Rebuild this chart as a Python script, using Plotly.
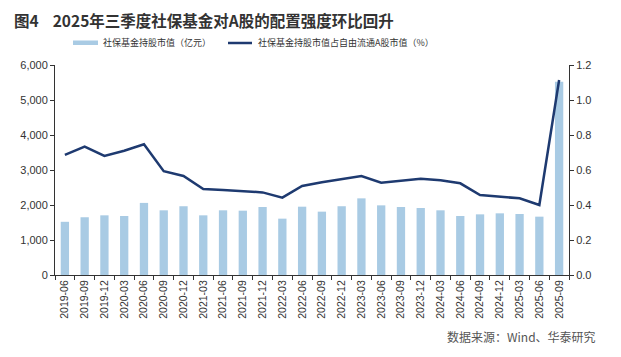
import plotly.graph_objects as go

categories = ["2019-06","2019-09","2019-12","2020-03","2020-06","2020-09","2020-12",
              "2021-03","2021-06","2021-09","2021-12","2022-03","2022-06","2022-09",
              "2022-12","2023-03","2023-06","2023-09","2023-12","2024-03","2024-06",
              "2024-09","2024-12","2025-03","2025-06","2025-09"]
holding_value = [1520, 1650, 1705, 1686, 2060, 1848, 1965, 1705, 1848, 1838, 1943, 1610,
                 1952, 1810, 1965, 2190, 1990, 1943, 1914, 1848, 1686, 1733, 1762, 1743,
                 1667, 5520]
holding_ratio = [0.686, 0.733, 0.680, 0.710, 0.747, 0.593, 0.566, 0.491, 0.486, 0.480,
                 0.472, 0.442, 0.509, 0.530, 0.548, 0.566, 0.527, 0.537, 0.550, 0.541,
                 0.524, 0.457, 0.447, 0.438, 0.400, 1.114]
left_ticks = [0, 1000, 2000, 3000, 4000, 5000, 6000]
right_ticks = [0.0, 0.2, 0.4, 0.6, 0.8, 1.0, 1.2]

BAR_COLOR = "#A9CBE4"
LINE_COLOR = "#1E3A70"
TXT = "#333333"

OFF = 8  # default page body margin
W, H = 621 - OFF, 357 - OFF
# page-pixel plot area: x 55..569, y 65..275
L = 55 - OFF
T = 65 - OFF
R = W - (569 - OFF)
B = H - (275 - OFF)
PW, PH = W - L - R, H - T - B

def px(x):
    return (x - OFF - L) / PW

def py(y):
    return (H - B - (y - OFF)) / PH

fig = go.Figure()
fig.add_trace(go.Bar(x=categories, y=holding_value, marker_color=BAR_COLOR,
                     marker_line_width=0, name="社保基金持股市值（亿元）", yaxis="y"))
fig.add_trace(go.Scatter(x=categories, y=holding_ratio, mode="lines",
                         line=dict(color=LINE_COLOR, width=2.5),
                         name="社保基金持股市值占自由流通A股市值（%）", yaxis="y2"))

axis_common = dict(showgrid=False, zeroline=False, showline=True, linecolor=TXT,
                   linewidth=1, ticks="outside", ticklen=4, tickcolor=TXT,
                   tickfont=dict(family="Liberation Sans, Arial", size=11, color=TXT))

fig.update_layout(
    width=W, height=H,
    margin=dict(l=L, r=R, t=T, b=B, autoexpand=False),
    paper_bgcolor="white", plot_bgcolor="white",
    showlegend=False,
    bargap=0.58,
    xaxis=dict(type="category", tickangle=-90, tickson="boundaries",
               showgrid=False, showline=True, linecolor=TXT, linewidth=1,
               ticks="outside", ticklen=4, tickcolor=TXT,
               tickfont=dict(family="Liberation Sans, Arial", size=10.5, color=TXT)),
    yaxis=dict(range=[0, 6000], tickvals=left_ticks, tickformat=",d", **axis_common),
    yaxis2=dict(range=[0, 1.2], tickvals=right_ticks, tickformat=".1f",
                overlaying="y", side="right", **axis_common),
)

# title
fig.add_annotation(text="<b>图4    2025年三季度社保基金对A股的配置强度环比回升</b>",
                   xref="paper", yref="paper", x=px(12), y=py(20),
                   xanchor="left", yanchor="middle", showarrow=False,
                   font=dict(family="Noto Sans CJK SC", size=15.5, color=TXT))

# legend (manual)
fig.add_shape(type="rect", xref="paper", yref="paper",
              x0=px(73), x1=px(98), y0=py(45), y1=py(40.5),
              fillcolor=BAR_COLOR, line_width=0)
fig.add_shape(type="line", xref="paper", yref="paper",
              x0=px(228), x1=px(252), y0=py(43), y1=py(43),
              line=dict(color=LINE_COLOR, width=2.5))
fig.add_annotation(text="社保基金持股市值（亿元）", xref="paper", yref="paper",
                   x=px(101), y=py(43), xanchor="left", yanchor="middle",
                   showarrow=False, font=dict(family="Noto Sans CJK SC", size=9, color=TXT))
fig.add_annotation(text="社保基金持股市值占自由流通A股市值（%）", xref="paper", yref="paper",
                   x=px(256), y=py(43), xanchor="left", yanchor="middle",
                   showarrow=False, font=dict(family="Noto Sans CJK SC", size=9, color=TXT))

# source
fig.add_annotation(text="数据来源：Wind、华泰研究", xref="paper", yref="paper",
                   x=px(598), y=py(336), xanchor="right", yanchor="middle",
                   showarrow=False, font=dict(family="Noto Sans CJK SC", size=12, color="#555555"))

fig.write_html("out.html")
